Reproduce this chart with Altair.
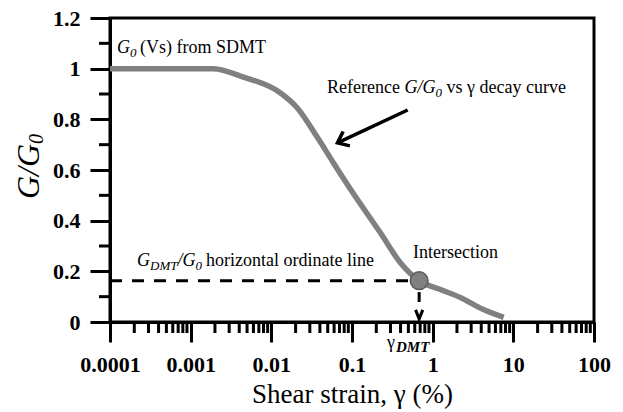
import altair as alt
import pandas as pd

# ---- data ----
strain = [0.0001, 0.0019, 0.0045, 0.013, 0.021, 0.037, 0.059, 0.103, 0.226, 0.40, 0.68, 1.2, 2.2, 4.2, 7.6]
ratio = [1.0, 1.0, 0.967, 0.904, 0.845, 0.73, 0.628, 0.509, 0.351, 0.233, 0.163, 0.13, 0.097, 0.05, 0.018]

gdmt_ratio = 0.163          # G_DMT/G0 ordinate
gamma_dmt = 0.68            # intersection strain
x_ticks = [0.0001, 0.001, 0.01, 0.1, 1, 10, 100]
y_ticks = [0, 0.2, 0.4, 0.6, 0.8, 1.0, 1.2]
y_minor = [0.1, 0.3, 0.5, 0.7, 0.9, 1.1]
x_minor = [m * d for d in [0.0001, 0.001, 0.01, 0.1, 1, 10] for m in range(2, 10)]
arrow_x = [0.49, 0.066]
arrow_y = [0.837, 0.707]

F = "Liberation Serif, Times New Roman, serif"
W, H = 484, 304
L, T = 110, 18

xscale = alt.Scale(type="log", domain=[0.0001, 100], nice=False)
yscale = alt.Scale(domain=[0, 1.2], nice=False, zero=False)
xaxis = alt.Axis(values=x_ticks, format="~g", title=None, tickSize=20, tickWidth=3,
                 tickColor="black", domainColor="black", domainWidth=3,
                 labelFont=F, labelFontSize=22, labelFontWeight="bold", labelColor="black",
                 labelPadding=12, labelFlush=False, labelOverlap=False, grid=False)
yaxis = alt.Axis(values=y_ticks, format="~g", title=None, tickSize=20, tickWidth=3,
                 tickColor="black", domainColor="black", domainWidth=3,
                 labelFont=F, labelFontSize=22, labelFontWeight="bold", labelColor="black",
                 labelPadding=10, labelFlush=False, labelOverlap=False, grid=False)


def X(f):
    return alt.X(f, type="quantitative", scale=xscale, axis=xaxis)


def Y(f):
    return alt.Y(f, type="quantitative", scale=yscale, axis=yaxis)


curve_df = pd.DataFrame({"x": strain, "y": ratio})
one = pd.DataFrame({"x": [gamma_dmt], "y": [gdmt_ratio], "x0": [x_ticks[0]]})

curve = alt.Chart(curve_df).mark_line(color="#808080", strokeWidth=5.5, interpolate="monotone").encode(
    x=X("x"), y=Y("y"))

hdash = alt.Chart(one).mark_rule(color="black", strokeWidth=3, strokeDash=[12, 10]).encode(
    x=X("x0"), x2="x", y=Y("y"))

vdash = alt.Chart(pd.DataFrame({"x": [gamma_dmt], "y": [0.118], "y2": [0.079]})).mark_rule(
    color="black", strokeWidth=3).encode(x=X("x"), y=Y("y"), y2="y2")

vhead = alt.Chart(pd.DataFrame({"x": [gamma_dmt], "y": [0.03]})).mark_point(
    shape="M-0.8,-1L0,1L0.8,-1", size=81, filled=False, color="black", strokeWidth=3, opacity=1).encode(
    x=X("x"), y=Y("y"))

circle = alt.Chart(one).mark_point(shape="circle", filled=True, fill="#808080", stroke="#5a5a5a",
                                   strokeWidth=1.5, size=314, opacity=1).encode(x=X("x"), y=Y("y"))

arrow_df = pd.DataFrame({"x": arrow_x, "y": arrow_y, "o": [0, 1]})
arrow = alt.Chart(arrow_df).mark_line(color="black", strokeWidth=3.5).encode(
    x=X("x"), y=Y("y"), order="o")
arrowhead = alt.Chart(arrow_df.iloc[[1]]).mark_point(
    shape="M-1,-0.8L0,0L-1,0.8", size=400, filled=False, color="black", strokeWidth=3.5,
    opacity=1, angle=155).encode(x=X("x"), y=Y("y"))

ymin_df = pd.DataFrame({"v": y_minor})
yminor = alt.Chart(ymin_df).mark_rule(color="black", strokeWidth=3).encode(
    y=Y("v"), x=alt.value(-11), x2=alt.value(0))
xmin_df = pd.DataFrame({"v": x_minor})
xminor = alt.Chart(xmin_df).mark_rule(color="black", strokeWidth=3).encode(
    x=X("v"), y=alt.value(H), y2=alt.value(H + 11))

dummy = pd.DataFrame({"a": [0]})


def txt(s, x, y, size=18, style="normal", weight="normal", align="left", angle=0):
    return alt.Chart(dummy).mark_text(text=s, font=F, fontSize=size, fontStyle=style,
                                      fontWeight=weight, align=align, baseline="alphabetic",
                                      angle=angle, color="black").encode(
        x=alt.value(x - L), y=alt.value(y - T))


texts = [
    # G0 (Vs) from SDMT
    txt("G", 117, 53, style="italic"),
    txt("0", 130, 57, size=13, style="italic"),
    txt("(Vs) from SDMT", 140, 53),
    # Reference G/G0 vs gamma decay curve
    txt("Reference", 327, 93),
    txt("G/G", 404.5, 93, style="italic"),
    txt("0", 435.5, 97, size=13, style="italic"),
    txt("vs γ decay curve", 446.5, 93),
    # GDMT/G0 horizontal ordinate line
    txt("G", 137, 266, style="italic"),
    txt("DMT", 150, 270, size=13, style="italic"),
    txt("/G", 177.4, 266, style="italic"),
    txt("0", 195.4, 270, size=13, style="italic"),
    txt("horizontal ordinate line", 206, 266),
    # Intersection
    txt("Intersection", 413, 258),
    # gamma DMT
    txt("γ", 387, 348),
    txt("DMT", 396, 352, size=15, style="italic", weight="bold"),
    # x title
    txt("Shear strain, γ (%)", 352.5, 403, size=27, align="center"),
    # y title
    txt("G/G", 39, 199, size=32, style="italic", angle=270),
    txt("0", 43, 144, size=20, style="italic", angle=270),
]

chart = alt.layer(hdash, curve, vdash, vhead, circle, arrow, arrowhead, yminor, xminor, *texts).properties(
    width=W, height=H,
    autosize=alt.AutoSizeParams(type="none"),
    padding={"left": L, "top": T, "right": 623 - L - W, "bottom": 412 - T - H},
).configure_view(stroke="black", strokeWidth=3).configure_axis(grid=False)

chart.save("out.html", embed_options={"renderer": "svg", "actions": False})
